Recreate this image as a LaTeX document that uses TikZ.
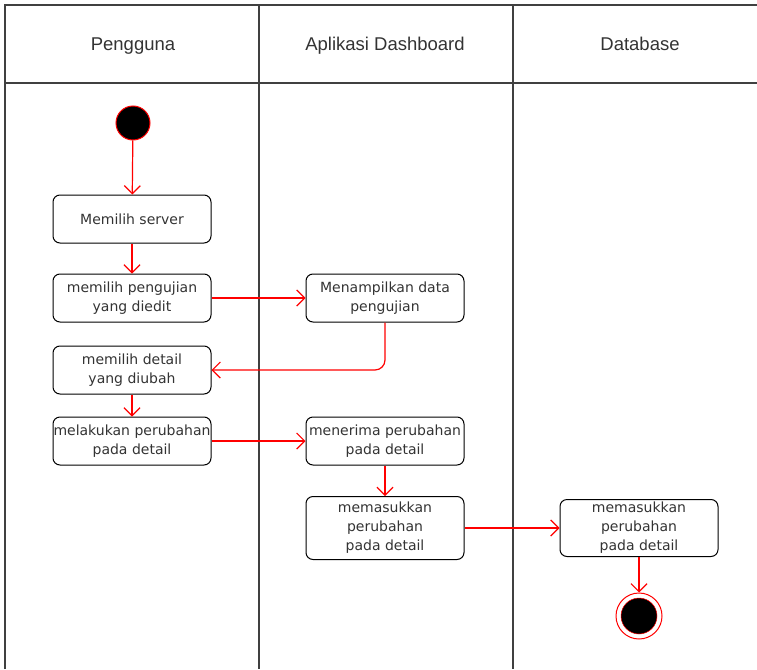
\documentclass[tikz,border=0pt]{standalone}
\usepackage{fontspec}
\setmainfont{DejaVu Sans}
\newfontfamily\headfont{Liberation Sans}
\usetikzlibrary{arrows.meta}
\begin{document}
\begin{tikzpicture}[x=1pt,y=-1pt,
 lane/.style={draw=black!75, line width=1.3pt},
 act/.style={draw=black, line width=1pt, rounded corners=7pt, minimum width=158pt, minimum height=48pt, inner sep=0pt, align=center, font=\fontsize{14}{19}\selectfont, text=black!80},
 head/.style={font=\headfont\fontsize{18.5}{22}\selectfont, text=black!80, anchor=base},
 flow/.style={draw=red, line width=1.2pt, -{Straight Barb[length=8pt,width=16pt,line width=1.2pt]}},
 ]
\useasboundingbox (0,0) rectangle (757,669);
\draw[lane] (5,669) -- (5,5) -- (757,5);
\draw[lane] (5,83) -- (757,83);
\draw[lane] (259,5) -- (259,669);
\draw[lane] (513,5) -- (513,669);
\node[head] (h1) at (133,51) {Pengguna};
\node[head] (h2) at (385,51) {Aplikasi Dashboard};
\node[head] (h3) at (640,51) {Database};

\node[circle, fill=black, draw=red, line width=1pt, minimum size=34pt, inner sep=0pt] (start) at (133,123) {};
\node[act] (server) at (132,219) {Memilih server};
\node[act] (uji) at (132,298) {memilih pengujian\\yang diedit};
\node[act] (tampil) at (385,298) {Menampilkan data\\pengujian};
\node[act] (detail) at (132,370) {memilih detail\\yang diubah};
\node[act] (ubah) at (132,441) {melakukan perubahan\\pada detail};
\node[act] (terima) at (385,441) {menerima perubahan\\pada detail};
\node[act, minimum height=63pt] (masuk) at (385,528) {memasukkan\\perubahan\\pada detail};
\node[act, minimum height=57pt] (db) at (639,528) {memasukkan\\perubahan\\pada detail};
\node[circle, draw=red, line width=1pt, minimum size=46pt, inner sep=0pt] (end) at (639,616) {};
\node[circle, fill=black, draw=red, line width=0.5pt, minimum size=36pt, inner sep=0pt] (endin) at (end) {};

\draw[flow] (start) -- (server);
\draw[flow] (server) -- (uji);
\draw[flow] (uji) -- (tampil);
\draw[flow, rounded corners=10pt] (tampil.south) |- (detail.east);
\draw[flow] (detail) -- (ubah);
\draw[flow] (ubah) -- (terima);
\draw[flow] (terima) -- (masuk);
\draw[flow] (masuk) -- (db);
\draw[flow] (db) -- (end);
\end{tikzpicture}
\end{document}
